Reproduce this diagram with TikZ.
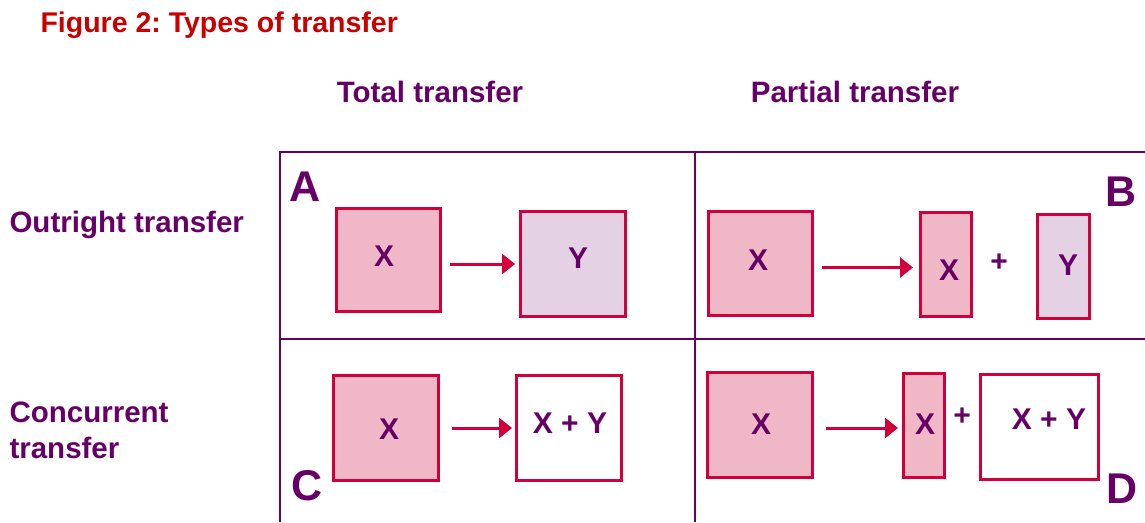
\documentclass[tikz,border=0pt]{standalone}
\usepackage{fontspec}
\setmainfont{Liberation Sans}
\usepackage{tikz}
\usetikzlibrary{arrows.meta}
\frenchspacing
\definecolor{titlered}{HTML}{C80000}
\definecolor{plum}{HTML}{660066}
\definecolor{boxline}{HTML}{D2003A}
\definecolor{pinkfill}{HTML}{F0B8C6}
\definecolor{lilacfill}{HTML}{E4D2E4}
\tikzset{
  head/.style={font=\fontsize{29.5}{36}\selectfont\bfseries,text=plum},
  corner/.style={font=\fontsize{43}{48}\selectfont\bfseries,text=plum},
  lbl/.style={font=\fontsize{30}{34}\selectfont\bfseries,text=plum},
  cell/.style={draw=boxline,line width=3pt,inner sep=0pt},
  grid/.style={draw=plum,line width=2.5pt},
  arr/.style={draw=boxline,line width=3pt,-{Triangle[length=13pt,width=20pt]}}
}
\begin{document}
\begin{tikzpicture}[x=1pt,y=-1pt]
        \useasboundingbox (0,0) rectangle (1145,522);
        \node[anchor=west,font=\fontsize{28.5}{32}\selectfont\bfseries,text=titlered] (title) at (37,25) {Figure 2: Types of transfer};
        \node[head] (total) at (430,92) {Total transfer};
        \node[head] (partial) at (855,92) {Partial transfer};
        \node[head,anchor=west] (outright) at (6,225) {Outright transfer};
        \node[head,anchor=west,align=left] (concurrent) at (6,430) {Concurrent\\transfer};
        \draw[grid] (1145,152) -- (280,152) -- (280,522);
        \draw[grid] (695,152) -- (695,522);
        \draw[grid] (280,339) -- (1145,339);
        \node[corner] (A) at (305,187) {A};
        \node[corner] (B) at (1121,192) {B};
        \node[corner] (C) at (307,486) {C};
        \node[corner] (D) at (1122,489) {D};
        % outright, total
        \node[cell,fill=pinkfill,minimum width=104pt,minimum height=103pt] (ax) at (388.5,260) {};
        \node[cell,fill=lilacfill,minimum width=105pt,minimum height=105pt] (ay) at (573,264) {};
        \node[lbl] at (384,256) {X};
        \node[lbl] at (578,258) {Y};
        \draw[arr,shorten <=8pt,shorten >=4pt] (ax.east |- ay.west) -- (ay.west);
        % outright, partial
        \node[cell,fill=pinkfill,minimum width=104pt,minimum height=104pt] (bx) at (760.5,263.5) {};
        \node[cell,fill=pinkfill,minimum width=51pt,minimum height=104pt] (bxs) at (946,264.5) {};
        \node[cell,fill=lilacfill,minimum width=52pt,minimum height=104pt] (by) at (1063.5,266.5) {};
        \node[lbl] at (758,260) {X};
        \node[lbl] at (949,270) {X};
        \node[lbl] at (999,263) {+};
        \node[lbl] at (1068,265) {Y};
        \draw[arr,shorten <=8pt,shorten >=6pt] ([yshift=-4pt]bx.east) -- ([yshift=-4pt]bx.east -| bxs.west);
        % concurrent, total
        \node[cell,fill=pinkfill,minimum width=105pt,minimum height=105pt] (cx) at (386,428) {};
        \node[cell,fill=white,minimum width=105pt,minimum height=105pt] (cxy) at (569,428) {};
        \node[lbl] at (389,429) {X};
        \node[lbl] at (570,423) {X + Y};
        \draw[arr,shorten <=12pt,shorten >=3pt] (cx.east) -- (cxy.west);
        % concurrent, partial
        \node[cell,fill=pinkfill,minimum width=105pt,minimum height=105pt] (dx) at (760,425) {};
        \node[cell,fill=pinkfill,minimum width=41pt,minimum height=104pt] (dxs) at (924,425.5) {};
        \node[cell,fill=white,minimum width=118pt,minimum height=105pt] (dxy) at (1039.5,427) {};
        \node[lbl] at (761,424) {X};
        \node[lbl] at (925,424) {X};
        \node[lbl] at (962,417) {+};
        \node[lbl] at (1049,419) {X + Y};
        \draw[arr,shorten <=12pt,shorten >=4pt] ([yshift=-3pt]dx.east) -- ([yshift=-3pt]dx.east -| dxs.west);
    \end{tikzpicture}
\end{document}
